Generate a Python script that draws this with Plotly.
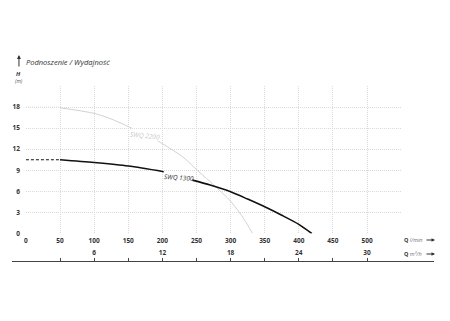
import plotly.graph_objects as go

# ---- data ----
q_1300_dash = [0, 50]
h_1300_dash = [10.5, 10.5]
q_1300 = [50, 100, 150, 202, None, 244, 270, 300, 325, 350, 375, 400, 419]
h_1300 = [10.5, 10.1, 9.6, 8.8, None, 7.6, 6.9, 5.95, 4.9, 3.8, 2.6, 1.3, 0.0]

q_2200_dash = [0, 50]
h_2200_dash = [18.0, 18.0]
q_2200 = [50, 100, 125, 155, None, 193, 230, 250, 280, 300, 320, 332]
h_2200 = [17.9, 17.1, 16.3, 15.0, None, 13.2, 10.9, 9.1, 6.5, 4.6, 2.0, 0.0]

x_ticks = [0, 50, 100, 150, 200, 250, 300, 350, 400, 450, 500, 550]
x_labels = ["0", "50", "100", "150", "200", "250", "300", "350", "400", "450", "500", ""]
y_ticks = [0, 3, 6, 9, 12, 15, 18, 21]
y_labels = ["0", "3", "6", "9", "12", "15", "18", ""]
m3h_ticks = [3, 6, 9, 12, 15, 18, 21, 24, 27, 30]
m3h_labels = ["", "6", "", "12", "", "18", "", "24", "", "30"]

X_MAX = 550
Y_MAX = 21
LMIN_TO_M3H = 0.06

# ---- layout geometry ----
W, H = 450, 321
ML, MR, MT, MB = 10, 16, 86, 60
PW = W - ML - MR
PH = H - MT - MB
plot_left, plot_right, plot_bottom = 24, 401, 233.5
xdom = [(plot_left - ML) / PW, (plot_right - ML) / PW]
ydom_bottom = (H - MB - plot_bottom) / PH
px_per_lmin = (plot_right - plot_left) / X_MAX
x2_left = -(plot_left - ML) / px_per_lmin * LMIN_TO_M3H
x2_right = (W - MR - plot_left) / px_per_lmin * LMIN_TO_M3H

def xp(px):
    return (px - ML) / PW

def yp(py):
    return (H - MB - py) / PH

FONT = "Open Sans"
GRID = "#dadada"
TXT = "#333333"

fig = go.Figure()
fig.add_trace(go.Scatter(x=q_2200_dash, y=h_2200_dash, mode="lines",
                         line=dict(color="#dcdcdc", width=1, dash="1px,1px"),
                         showlegend=False, hoverinfo="skip"))
fig.add_trace(go.Scatter(x=q_2200, y=h_2200, mode="lines", connectgaps=False,
                         line=dict(color="#d2d2d2", width=1, shape="spline", smoothing=0.8),
                         showlegend=False))
fig.add_trace(go.Scatter(x=q_1300_dash, y=h_1300_dash, mode="lines",
                         line=dict(color="#111111", width=1, dash="3px,2px"),
                         showlegend=False, hoverinfo="skip"))
fig.add_trace(go.Scatter(x=q_1300, y=h_1300, mode="lines", connectgaps=False,
                         line=dict(color="#111111", width=1.6, shape="spline", smoothing=0.8),
                         showlegend=False))
# dummy trace for second (m3/h) axis
fig.add_trace(go.Scatter(x=[None], y=[None], xaxis="x2", yaxis="y2",
                         showlegend=False, hoverinfo="skip"))

tickfont = dict(family=FONT, size=6.5, color=TXT, weight="bold")

fig.update_layout(
    width=W, height=H,
    margin=dict(l=ML, r=MR, t=MT, b=MB, pad=0),
    paper_bgcolor="white", plot_bgcolor="white",
    xaxis=dict(domain=xdom, range=[0, X_MAX], tickvals=x_ticks, ticktext=x_labels,
               showgrid=True, gridcolor=GRID, gridwidth=1, griddash="1px,1px",
               zeroline=False, showline=False, ticks="", tickfont=tickfont,
               ticklabelstandoff=2, fixedrange=True),
    yaxis=dict(domain=[ydom_bottom, 1], range=[0, Y_MAX], tickvals=y_ticks, ticktext=y_labels,
               showgrid=True, gridcolor=GRID, gridwidth=1, griddash="1px,1px",
               zeroline=False, showline=False, ticks="", tickfont=tickfont,
               ticklabelstandoff=5, fixedrange=True),
    xaxis2=dict(domain=[0, 1], anchor="free", position=0, side="top",
                range=[x2_left, x2_right], tickvals=m3h_ticks, ticktext=m3h_labels,
                showgrid=False, zeroline=False, showline=True, linecolor="#444444",
                linewidth=1, ticks="outside", ticklen=3, tickcolor="#444444",
                tickfont=tickfont, ticklabelstandoff=0),
    yaxis2=dict(domain=[0, 0.05], anchor="x2", visible=False, showgrid=False),
)

ann = []
# curve labels
ann.append(dict(x=174, y=13.9, xref="x", yref="y", text="<i>SWQ 2200</i>", showarrow=False,
                textangle=6, font=dict(family=FONT, size=6.5, color="#c8c8c8")))
ann.append(dict(x=224, y=8.0, xref="x", yref="y", text="<i>SWQ 1300</i>", showarrow=False,
                textangle=4, font=dict(family=FONT, size=6.5, color="#333333")))
# title
ann.append(dict(x=xp(22), y=yp(62), xref="paper", yref="paper", xanchor="left", yanchor="middle",
                text="<i>Podnoszenie / Wydajność</i>", showarrow=False,
                font=dict(family=FONT, size=7.5, color="#333333")))
ann.append(dict(x=xp(17), y=yp(55), xref="paper", yref="paper", text="", showarrow=True,
                ax=0, ay=13, arrowhead=2, arrowsize=0.8, arrowwidth=1, arrowcolor="#333333"))
ann.append(dict(x=xp(17), y=yp(74), xref="paper", yref="paper", xanchor="center", yanchor="middle",
                text="<b><i>H</i></b>",
                showarrow=False, font=dict(family=FONT, size=6, color="#333333")))
ann.append(dict(x=xp(17), y=yp(81), xref="paper", yref="paper", xanchor="center", yanchor="middle",
                text="<i>(m)</i>",
                showarrow=False, font=dict(family=FONT, size=5, color="#555555")))
# axis names
ann.append(dict(x=xp(402), y=yp(240), xref="paper", yref="paper", xanchor="left", yanchor="middle",
                text="<b>Q</b> <i><span style='color:#777'>l/min</span></i>", showarrow=False,
                font=dict(family=FONT, size=5.5, color="#333333")))
ann.append(dict(x=xp(402), y=yp(254), xref="paper", yref="paper", xanchor="left", yanchor="middle",
                text="<b>Q</b> <i><span style='color:#777'>m³/h</span></i>", showarrow=False,
                font=dict(family=FONT, size=5.5, color="#333333")))
for py in (240, 254):
    ann.append(dict(x=xp(435), y=yp(py), xref="paper", yref="paper", text="", showarrow=True,
                    ax=-10, ay=0, arrowhead=2, arrowsize=0.7, arrowwidth=1, arrowcolor="#333333"))
fig.update_layout(annotations=ann)

fig.write_html("out.html")
